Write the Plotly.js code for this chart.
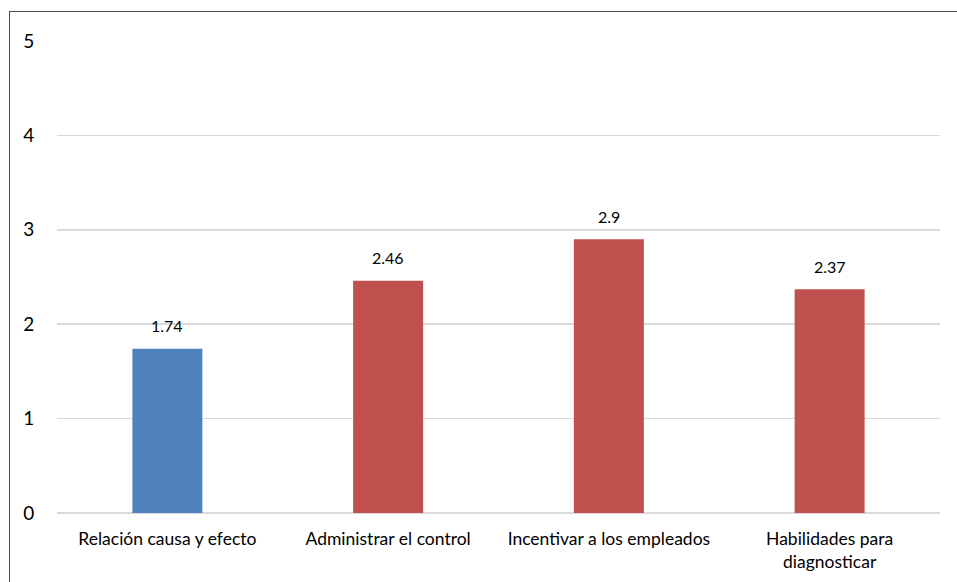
<!DOCTYPE html>
<html>
<head>
<meta charset="utf-8">
<script src="https://cdn.plot.ly/plotly-3.0.1.min.js"></script>
<style>
  html, body { margin: 0; padding: 0; background: #fff; }
  #wrap { position: relative; width: 957px; height: 582px; overflow: hidden; }
  #frame { position: absolute; left: 9px; top: 11px; width: 960px; height: 600px;
           border-left: 1px solid #4a4a4a; border-top: 1px solid #4a4a4a; box-sizing: border-box; }
  #chart { position: absolute; left: 0; top: 0; width: 957px; height: 582px; }
</style>
</head>
<body>
<div id="wrap">
  <div id="frame"></div>
  <div id="chart"></div>
</div>
<script>
// Dimension scores
const categories = [
  "Relación causa y efecto",
  "Administrar el control",
  "Incentivar a los empleados",
  "Habilidades para<br>diagnosticar"
];
const scores = [1.74, 2.46, 2.9, 2.37];
const barColors = ["#4F81BD", "#C0504D", "#C0504D", "#C0504D"];
const yTicks = [0, 1, 2, 3, 4, 5];

const fontFamily = "Lato, 'Open Sans', sans-serif";

const trace = {
  type: "bar",
  x: categories,
  y: scores,
  marker: { color: barColors },
  hoverinfo: "x+y"
};

// value labels above each bar
const labels = categories.map((c, i) => ({
  x: c,
  y: scores[i],
  xref: "x",
  yref: "y",
  text: String(scores[i]),
  showarrow: false,
  yanchor: "middle",
  yshift: 23,
  font: { family: fontFamily, size: 16, color: "#000" }
}));

const layout = {
  width: 957,
  height: 582,
  margin: { l: 57, r: 17, t: 41, b: 69 },
  paper_bgcolor: "rgba(0,0,0,0)",
  plot_bgcolor: "rgba(0,0,0,0)",
  showlegend: false,
  bargap: 0.683,
  xaxis: {
    type: "category",
    showgrid: false,
    zeroline: false,
    showline: false,
    ticks: "outside",
    ticklen: 10,
    tickcolor: "rgba(0,0,0,0)",
    tickfont: { family: fontFamily, size: 17.5, color: "#000" }
  },
  yaxis: {
    range: [0, 5],
    tickvals: yTicks,
    ticktext: yTicks.map(String),
    showgrid: true,
    gridcolor: "#D9D9D9",
    gridwidth: 1.5,
    zeroline: true,
    zerolinecolor: "#D9D9D9",
    zerolinewidth: 1.5,
    showline: false,
    ticks: "outside",
    ticklen: 18,
    tickcolor: "rgba(0,0,0,0)",
    tickfont: { family: fontFamily, size: 19, color: "#000" }
  },
  annotations: labels
};

Plotly.newPlot("chart", [trace], layout, { displayModeBar: false, staticPlot: true });
</script>
</body>
</html>
